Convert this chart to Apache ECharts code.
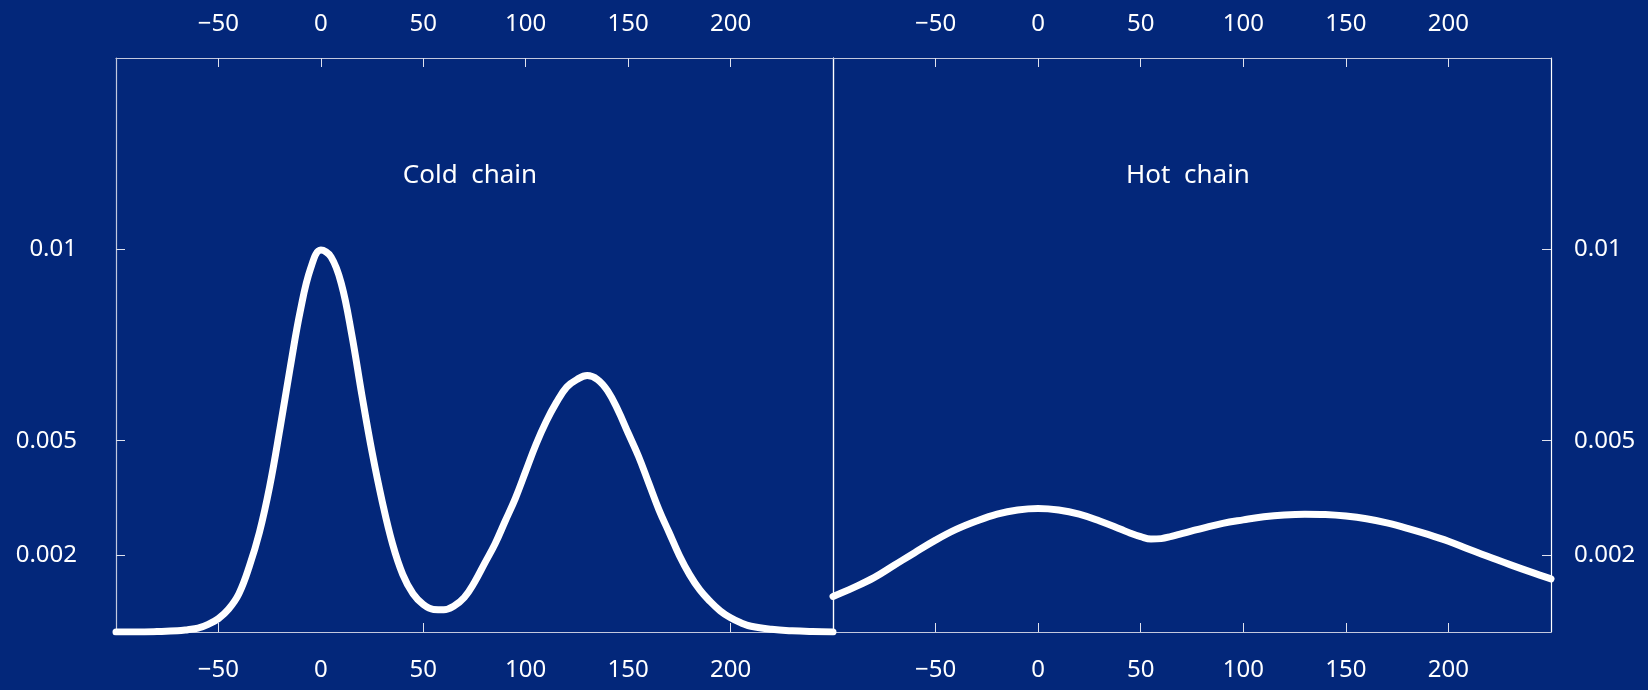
<!DOCTYPE html>
<html>
<head>
<meta charset="utf-8">
<script src="https://cdn.jsdelivr.net/npm/echarts@6/dist/echarts.min.js"></script>
<style>
  html, body { margin: 0; padding: 0; background: #03277a; }
  #chart { width: 1648px; height: 690px; }
</style>
</head>
<body>
<div id="chart"></div>
<script>
// panel titles
var panelNames = ['Cold  chain', 'Hot  chain'];

// x tick labels and y tick labels
var xTicks = [-50, 0, 50, 100, 150, 200];
var yTicks = [0.002, 0.005, 0.01];

// density curves
var coldX = [-100, -90, -80, -70, -65, -60, -55, -50, -45, -40, -35, -30, -25, -20, -15, -10, -5, 0, 5, 10, 15, 20, 25, 30, 35, 40, 45, 50, 55, 60, 65, 70, 75, 80, 85, 90, 95, 100, 105, 110, 115, 120, 125, 130, 135, 140, 145, 150, 155, 160, 165, 170, 175, 180, 185, 190, 195, 200, 205, 210, 220, 230, 240, 250];
var coldY = [0, 0, 0.00001, 0.00003, 0.00006, 0.0001, 0.0002, 0.00035, 0.0006, 0.001, 0.0017, 0.0026, 0.0038, 0.0053, 0.0069, 0.0084, 0.0095, 0.00998, 0.0098, 0.0091, 0.0078, 0.0062, 0.0047, 0.0034, 0.0023, 0.0015, 0.001, 0.00072, 0.00059, 0.00058, 0.00068, 0.0009, 0.0013, 0.0018, 0.0023, 0.0029, 0.0035, 0.0042, 0.0049, 0.0055, 0.006, 0.0064, 0.0066, 0.0067, 0.0066, 0.0063, 0.0058, 0.0052, 0.0046, 0.0039, 0.0032, 0.0026, 0.002, 0.0015, 0.0011, 0.0008, 0.00055, 0.00037, 0.00024, 0.00015, 0.00007, 0.00003, 0.00001, 0];

var hotX = [-100, -90, -80, -70, -60, -50, -40, -30, -20, -10, 0, 10, 20, 30, 40, 45, 50, 55, 60, 65, 70, 75, 80, 90, 100, 110, 120, 130, 140, 150, 160, 170, 180, 190, 200, 210, 220, 230, 240, 250];
var hotY = [0.00093, 0.00116, 0.00142, 0.00175, 0.00208, 0.0024, 0.00268, 0.0029, 0.00308, 0.00319, 0.00323, 0.00319, 0.00308, 0.0029, 0.00269, 0.00258, 0.00249, 0.00243, 0.00244, 0.0025, 0.00257, 0.00264, 0.00271, 0.00284, 0.00293, 0.00301, 0.00306, 0.00308, 0.00307, 0.00303, 0.00296, 0.00285, 0.00271, 0.00255, 0.00237, 0.00216, 0.00196, 0.00176, 0.00157, 0.00139];

function pairs(xs, ys) {
  return xs.map(function (x, i) { return [x, ys[i]]; });
}

var FONT = 'Noto Sans';
var frame = '#c3c8de';
var tickColor = '#dfe2ee';

function fmtX(v) {
  return v < 0 ? '\u2212' + Math.abs(v) : String(v);
}

function xAxis(grid, pos, ticks) {
  return {
    type: 'value',
    gridIndex: grid,
    position: pos,
    min: -100,
    max: 250,
    axisLine: { show: true, onZero: false, lineStyle: { color: frame, width: 1.2 } },
    axisTick: { show: true, inside: true, length: 9, customValues: ticks, lineStyle: { color: tickColor, width: 1 } },
    axisLabel: {
      customValues: xTicks,
      formatter: fmtX,
      color: '#ffffff',
      fontFamily: FONT,
      fontSize: 24,
      margin: pos === 'top' ? 22 : 26
    },
    splitLine: { show: false }
  };
}

function yAxis(grid, pos, showLabels, lineColor) {
  return {
    type: 'value',
    gridIndex: grid,
    position: pos,
    min: 0,
    max: 0.015,
    axisLine: { show: true, onZero: false, lineStyle: { color: lineColor, width: 1.2 } },
    axisTick: { show: showLabels, inside: true, length: 9, customValues: yTicks, lineStyle: { color: tickColor, width: 1 } },
    axisLabel: {
      show: showLabels,
      customValues: yTicks,
      color: '#ffffff',
      fontFamily: FONT,
      fontSize: 24,
      margin: pos === 'left' ? 39 : 23
    },
    splitLine: { show: false }
  };
}

var myChart = echarts.init(document.getElementById('chart'));
var option = {
  backgroundColor: '#03277a',
  animation: false,
  title: [
    { text: panelNames[0], left: 470, top: 163, textAlign: 'center', padding: 0,
      textStyle: { color: '#ffffff', fontFamily: FONT, fontSize: 26, fontWeight: 'normal' } },
    { text: panelNames[1], left: 1188, top: 163, textAlign: 'center', padding: 0,
      textStyle: { color: '#ffffff', fontFamily: FONT, fontSize: 26, fontWeight: 'normal' } }
  ],
  grid: [
    { left: 116, top: 58, width: 717, height: 574 },
    { left: 833, top: 58, width: 718, height: 574 }
  ],
  xAxis: [
    xAxis(0, 'bottom', [-50, 50, 200]),
    xAxis(0, 'top', xTicks),
    xAxis(1, 'bottom', xTicks),
    xAxis(1, 'top', xTicks)
  ],
  yAxis: [
    yAxis(0, 'left', true, frame),
    yAxis(0, 'right', false, '#ffffff'),
    yAxis(1, 'right', true, '#ffffff'),
    yAxis(1, 'left', false, '#ffffff')
  ],
  series: [
    {
      name: 'Cold chain',
      type: 'line',
      xAxisIndex: 0,
      yAxisIndex: 0,
      data: pairs(coldX, coldY),
      smooth: 0.4,
      showSymbol: false,
      lineStyle: { color: '#ffffff', width: 7, cap: 'round', join: 'round' }
    },
    {
      name: 'Hot chain',
      type: 'line',
      xAxisIndex: 2,
      yAxisIndex: 2,
      data: pairs(hotX, hotY),
      smooth: 0.4,
      showSymbol: false,
      lineStyle: { color: '#ffffff', width: 7, cap: 'round', join: 'round' }
    }
  ]
};

if (option && typeof option === "object") {
  myChart.setOption(option, true);
}
</script>
</body>
</html>
